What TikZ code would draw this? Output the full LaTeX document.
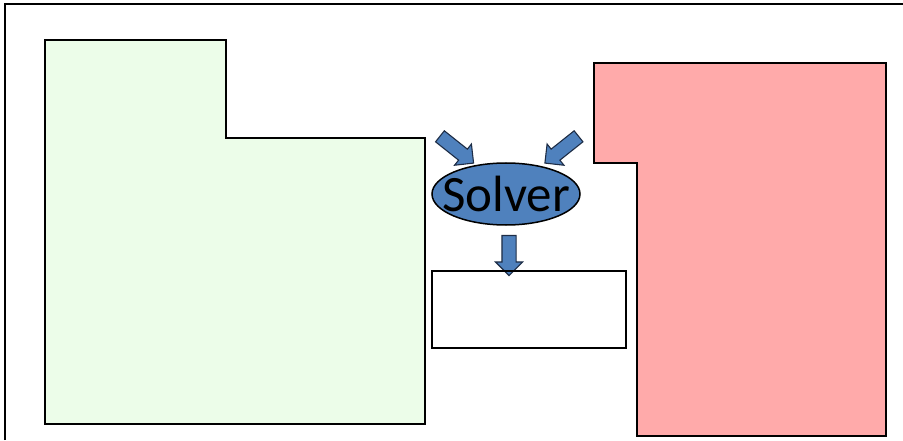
\documentclass[tikz,border=0pt]{standalone}
\usepackage{fontspec}
\setmainfont{Carlito}
\usetikzlibrary{shapes.arrows,shapes.geometric}
\definecolor{regiongreen}{RGB}{236,253,233}
\definecolor{regionred}{RGB}{255,170,170}
\definecolor{solverblue}{RGB}{79,129,189}
\definecolor{solveredge}{RGB}{30,45,70}
\begin{document}
\begin{tikzpicture}[x=1pt,y=1pt,
    region/.style={draw=black, line width=1.3pt, line join=miter},
    blockarrow/.style={single arrow, draw=solveredge, fill=solverblue, line width=1.1pt,
        inner sep=0pt, inner ysep=6.5pt, single arrow head extend=6.5pt, minimum height=#1},
    blockarrow/.default=43pt]
        \useasboundingbox (0,0) rectangle (903,440);
        \draw[line width=1.3pt] (5,0) -- (5,436) -- (903,436);

        % the two regions
        \draw[region, fill=regiongreen] (45,400) -- (226,400) -- (226,302) -- (425,302) -- (425,16) -- (45,16) -- cycle;
        \draw[region, fill=regionred] (594,377) -- (886,377) -- (886,4) -- (637,4) -- (637,277) -- (594,277) -- cycle;

        \node[ellipse, draw=black, line width=1.5pt, fill=solverblue, minimum width=148pt, minimum height=62pt,
              inner xsep=-12pt, inner ysep=-6pt, font=\fontsize{51}{55}\selectfont] (solver) at (506,246) {Solver};
        \node[blockarrow, rotate=-38.5] (inleft) at (454,292.5) {};
        \node[blockarrow, rotate=-141.5] (inright) at (564.5,292.5) {};
        \node[blockarrow=40pt, rotate=-90] (out) at (509,188) {};

        \node[draw, line width=1.2pt, minimum width=194pt, minimum height=77pt] (result) at (529,130.5) {};
    \end{tikzpicture}
\end{document}
